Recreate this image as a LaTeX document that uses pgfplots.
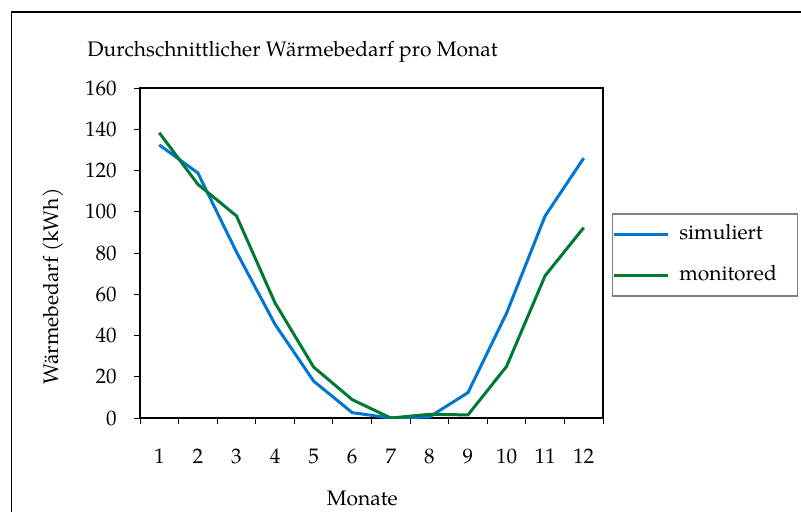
\documentclass[border=0pt]{standalone}
\usepackage{pgfplots}
\pgfplotsset{compat=1.18}
\usepackage{fontspec}
\setmainfont{TeX Gyre Pagella}
\definecolor{simblue}{RGB}{0,118,210}
\definecolor{mongreen}{RGB}{0,122,51}
\begin{document}
\begin{tikzpicture}
\fontsize{10.5}{12}\selectfont
\begin{axis}[
  at={(70pt,46.5pt)}, anchor=south west,
  scale only axis, width=231.5pt, height=165pt,
  xmin=0.5, xmax=12.5, ymin=0, ymax=160,
  xtick={1,...,12},
  minor xtick={0.5,1.5,...,12.5},
  ytick={0,20,...,160},
  tick align=outside,
  xtick pos=bottom, ytick pos=left,
  major x tick style={draw=none},
  major tick length=3pt, minor tick length=3pt,
  tick style={black, line width=0.5pt},
  axis line style={line width=0.6pt},
  /pgf/number format/assume math mode=true,
  font=\fontsize{10.5}{12}\selectfont,
  xticklabel style={anchor=center, yshift=-16pt},
  yticklabel style={anchor=east, xshift=-5pt},
  title={Durchschnittlicher Wärmebedarf pro Monat},
  every axis title shift=0pt,
  title style={at={(rel axis cs:-0.1145,1.094)}, anchor=base west, yshift=0pt, inner xsep=0pt},
  xlabel={Monate},
  xlabel style={at={(rel axis cs:0.48,-0.245)}, anchor=center},
  ylabel={Wärmebedarf (kWh)},
  ylabel style={at={(rel axis cs:-0.188,0.398)}, anchor=center},
  legend style={at={(rel axis cs:1.0188,0.6203)}, anchor=north west,
    draw=gray, line width=0.6pt, inner xsep=0pt, inner ysep=0pt,
    row sep=0pt, column sep=0pt,
    nodes={inner xsep=3pt, inner ysep=0pt, minimum height=20.5pt, text height=7pt, text depth=2pt}},
  legend image code/.code={\draw[#1, line width=1.5pt] (0pt,0pt) -- (27pt,0pt);},
  legend cell align=left,
]
\addplot[simblue, line width=1.5pt] coordinates {
(1,132.4) (2,118.8) (3,80.5) (4,45.4) (5,17.9) (6,2.6) (7,0) (8,0.5) (9,12.3) (10,50.8) (11,98) (12,126)};
\addlegendentry{\makebox[58pt][l]{\hspace{2pt}simuliert}}
\addplot[mongreen, line width=1.5pt] coordinates {
(1,138.3) (2,113.3) (3,98) (4,55.8) (5,24.7) (6,8.9) (7,0) (8,1.8) (9,1.5) (10,25) (11,69) (12,92.3)};
\addlegendentry{\makebox[58pt][l]{\hspace{2pt}monitored}}
\end{axis}
\draw[line width=0.6pt] (5.75pt,-10pt) -- (5.75pt,249.5pt) -- (420pt,249.5pt);
\pgfresetboundingbox
\useasboundingbox (0,0) rectangle (400.5pt,255.5pt);
\end{tikzpicture}
\end{document}
